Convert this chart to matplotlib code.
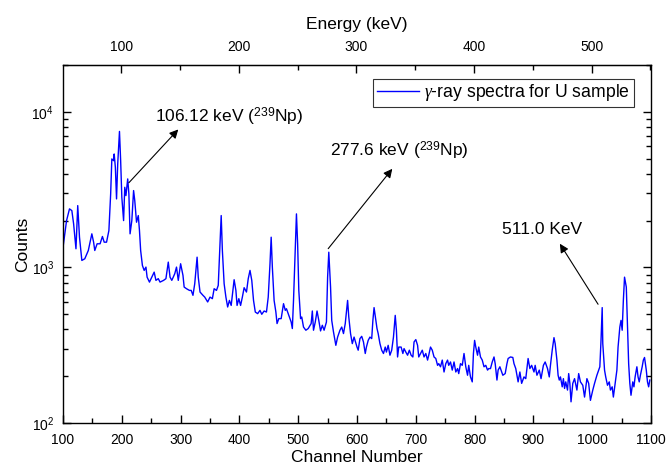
import matplotlib
matplotlib.use("Agg")
import matplotlib.pyplot as plt
from matplotlib.ticker import MultipleLocator, FixedLocator, LogLocator, NullFormatter

plt.rcParams['font.family'] = ['Liberation Sans', 'DejaVu Sans']
plt.rcParams['mathtext.fontset'] = 'custom'
plt.rcParams['mathtext.rm'] = 'Liberation Sans'
plt.rcParams['mathtext.it'] = 'Liberation Serif:italic'

# spectrum (channel, counts)
channel = [100, 106, 111, 115, 118, 122, 125, 128, 132, 137, 143, 149, 152, 154, 158, 163, 167, 170, 174, 178,
           181, 183, 186, 187, 189, 191, 193, 196, 198, 200, 203, 205, 207, 210, 212, 214, 217, 220, 222, 225,
           228, 230, 232, 235, 238, 241, 243, 247, 251, 255, 258, 262, 265, 271, 275, 279, 282, 285, 290, 293,
           296, 300, 304, 306, 310, 315, 318, 321, 324, 328, 330, 333, 338, 341,
           346, 350, 354, 357, 361, 364, 366, 369, 371, 374, 377, 380, 383, 386, 389, 391, 394, 396, 399, 402,
           405, 408, 412, 415, 418, 421, 424, 427, 431, 435, 438, 442, 446, 449, 452, 454, 456, 459, 462, 464,
           467, 471, 475, 478, 480, 484, 488, 490, 492, 495, 497, 499, 501, 504, 506, 509, 513, 517, 522, 524,
           526, 529, 532, 535, 538, 541, 544, 548, 550, 552, 555, 557, 560, 564, 567, 571, 574, 577, 580, 584,
           586, 589, 592, 595,
           600, 602, 605, 608, 611, 614, 616, 619, 622, 625, 627, 629, 632, 634, 636, 639, 642, 645, 648, 650,
           653, 656, 659, 662, 663, 665, 667, 669, 671, 675, 678, 680, 683, 686, 689, 692, 695, 697, 700, 703,
           705, 708, 711, 714, 717, 720, 722, 725, 728, 731, 734, 737, 739, 742, 745, 748, 751, 754, 756, 759,
           762, 765, 768, 771, 773, 776, 779, 782, 785, 788, 790, 793, 796, 798, 800, 802, 805, 807, 810, 813,
           816, 819, 822, 824, 827, 830, 833, 835, 838, 840,
           843, 848, 852, 855, 857, 861, 865, 867, 870, 874, 877, 880, 884, 887, 891, 894, 897, 901, 903, 906,
           910, 913, 917, 920, 924, 927, 929, 932, 935, 937, 940, 942, 944, 946, 949, 951, 953, 955, 958, 960,
           962, 964, 967, 970, 974, 977, 980, 984, 987, 991, 994, 997, 1001, 1004, 1008, 1010, 1013, 1015, 1017, 1018,
           1021, 1023, 1026, 1029, 1031, 1034, 1036, 1039, 1042, 1044, 1047, 1049, 1051, 1053, 1055, 1058, 1060, 1062, 1064, 1066,
           1069, 1071, 1073, 1076, 1078, 1080, 1082, 1085, 1087, 1089, 1092, 1094, 1096, 1098]
counts = [1349, 2000, 2378, 2317, 1906, 1318, 2496, 1564, 1109, 1137, 1285, 1644, 1453, 1285, 1419, 1419, 1581, 1453, 1453, 1726,
          2966, 4976, 4852, 5356, 4397, 2756, 4620, 7478, 4852, 2825, 2000, 3273, 2894, 3703, 2966, 1644, 2000, 3117, 2688, 1952,
          2154, 1726, 1285, 1030, 957, 1005, 866, 805, 866, 933, 826, 847, 805, 826, 847, 1082, 866, 826, 911, 1005,
          826, 1056, 889, 748, 730, 712, 712, 662, 786, 1164, 866, 695, 662, 645,
          600, 645, 630, 730, 712, 767, 1164, 2154, 1285, 786, 645, 557, 614, 570, 712, 834, 712, 570, 630, 570,
          645, 741, 695, 847, 957, 826, 614, 517, 505, 530, 500, 525, 517, 645, 1056, 1564, 1005, 614, 517, 436,
          469, 469, 585, 530, 543, 492, 446, 405, 614, 1349, 2208, 1419, 712, 469, 480, 414, 395, 405, 436, 525,
          395, 446, 525, 457, 391, 425, 395, 446, 866, 1253, 748, 457, 385, 316, 357, 395, 414, 376, 436, 614,
          480, 376, 324, 357,
          308, 294, 349, 361, 332, 280, 308, 340, 357, 349, 457, 552, 457, 405, 376, 324, 294, 280, 308, 286,
          316, 273, 294, 357, 395, 492, 395, 266, 308, 308, 280, 301, 286, 273, 294, 273, 266, 332, 344, 316,
          266, 280, 294, 266, 280, 254, 273, 308, 294, 266, 260, 235, 241, 230, 254, 213, 241, 254, 235, 247,
          219, 247, 213, 224, 208, 241, 235, 280, 230, 203, 235, 198, 184, 280, 340, 308, 273, 308, 266, 254,
          230, 235, 219, 224, 224, 247, 266, 241, 189, 219,
          230, 203, 208, 241, 260, 266, 264, 241, 224, 184, 213, 180, 198, 193, 260, 224, 235, 213, 235, 203,
          219, 193, 235, 247, 224, 198, 235, 294, 354, 324, 254, 203, 189, 198, 171, 193, 167, 184, 163, 208,
          180, 137, 180, 193, 163, 208, 184, 175, 147, 193, 180, 140, 163, 180, 203, 213, 230, 340, 552, 324,
          219, 198, 175, 184, 163, 171, 147, 180, 219, 308, 414, 457, 395, 614, 866, 748, 414, 241, 180, 151,
          184, 171, 198, 230, 198, 184, 203, 230, 254, 264, 219, 184, 171, 189]

# peak labels: text, text position, arrow tail, arrow head
labels = ['106.12 keV ($^{239}$Np)', '277.6 keV ($^{239}$Np)', '511.0 KeV']
text_pos = [(256, 9300), (554, 5600), (847, 1750)]
arrow_tail = [(212, 3500), (551, 1320), (1010, 580)]
arrow_head = [(296, 7700), (660, 4300), (945, 1420)]
energy_ticks = [100, 200, 300, 400, 500]


def ch2e(ch):
    return 0.5 * ch + 0.5


def e2ch(e):
    return (e - 0.5) / 0.5


fig = plt.figure(figsize=(6.67, 4.67), dpi=100)
ax = fig.add_axes([0.0945, 0.094, 0.8815, 0.767])

ax.plot(channel, counts, color='#0000ff', lw=1.0, label=r'$\gamma$-ray spectra for U sample')
ax.set_yscale('log')
ax.set_xlim(100, 1100)
ax.set_ylim(100, 20000)

ax.xaxis.set_major_locator(MultipleLocator(100))
ax.xaxis.set_minor_locator(MultipleLocator(50))
ax.yaxis.set_major_locator(LogLocator(base=10, numticks=10))
ax.yaxis.set_minor_locator(LogLocator(base=10, subs=range(2, 10), numticks=10))
ax.yaxis.set_minor_formatter(NullFormatter())
ax.tick_params(which='both', direction='in', top=False, right=True, labelsize=10, width=1)
ax.tick_params(which='major', length=6)
ax.tick_params(which='minor', length=3.5)
ax.tick_params(axis='x', which='major', pad=7)
ax.tick_params(axis='y', which='major', pad=6.5)
for s in ax.spines.values():
    s.set_linewidth(1.0)

ax.set_xlabel('Channel Number', fontsize=12.5, labelpad=2)
ax.set_ylabel('Counts', fontsize=12.5, labelpad=1)

top = ax.secondary_xaxis('top', functions=(ch2e, e2ch))
top.xaxis.set_major_locator(FixedLocator(energy_ticks))
top.xaxis.set_minor_locator(MultipleLocator(50))
top.tick_params(which='both', direction='in', labelsize=10, width=1)
top.tick_params(which='major', length=6, pad=8)
top.tick_params(which='minor', length=3.5)
top.set_xlabel('Energy (keV)', fontsize=12.5, labelpad=8)

for lab, tp, tail, head in zip(labels, text_pos, arrow_tail, arrow_head):
    ax.annotate('', xy=head, xytext=tail,
                arrowprops=dict(arrowstyle='-|>', color='black', lw=0.8,
                                mutation_scale=13, shrinkA=0, shrinkB=0))
    ax.text(tp[0], tp[1], lab, fontsize=12.5, va='center', ha='left')

leg = ax.legend(loc='upper right', bbox_to_anchor=(0.971, 0.961), borderaxespad=0,
                fontsize=12.7, frameon=True, fancybox=False, handlelength=2.4,
                handletextpad=0.3, borderpad=0.2)
leg.get_frame().set_edgecolor('black')
leg.get_frame().set_linewidth(0.8)

fig.savefig('out.png', dpi=100)
